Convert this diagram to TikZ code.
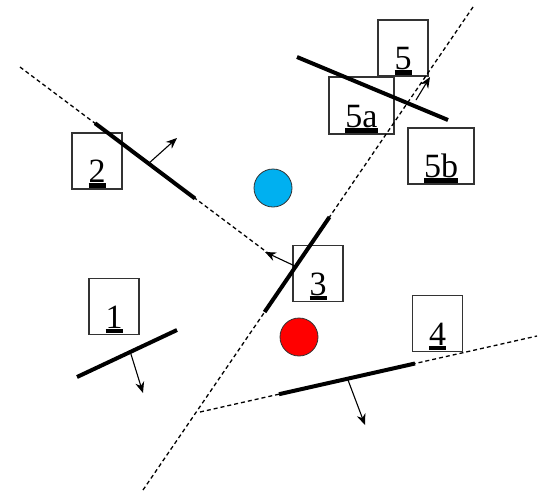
\documentclass[tikz,border=0pt]{standalone}
\usepackage{fontspec}
\setmainfont{Liberation Serif}
\usetikzlibrary{arrows.meta}
\newcommand{\ulab}[1]{\setbox0=\hbox{#1}\rlap{\rule[-5pt]{\wd0}{4.5pt}}\box0}
\definecolor{cblue}{HTML}{00B0F0}
\definecolor{cred}{HTML}{FF0000}
\tikzset{
  bx/.style={draw=black!80, line width=1.3pt, minimum width=50pt, minimum height=56pt, inner sep=0pt},
  lab/.style={anchor=base, font=\fontsize{34}{38}\selectfont, inner sep=0pt},
  seg/.style={line width=4pt},
  bound/.style={dash pattern=on 4pt off 3pt, line width=1.3pt},
  nrm/.style={-{Stealth[length=11pt,width=9pt]}, line width=1.1pt},
  dot/.style={circle, draw=black!80, line width=0.8pt, minimum size=38pt, inner sep=0pt}
}
\begin{document}
\begin{tikzpicture}[x=1pt,y=-1pt]
\useasboundingbox (0,0) rectangle (549,496);
% boxes
\node[bx] (b1) at (114,306.5) {};
\node[bx] (b2) at (97,161) {};
\node[bx] (b3) at (318,273.5) {};
\node[bx] (b4) at (437.5,323.5) {};
\node[bx] (b5) at (403,48) {};
\node[bx, minimum width=65pt, minimum height=57pt] (b5a) at (361.5,105.5) {};
\node[bx, minimum width=66pt] (b5b) at (441,156) {};
\node[lab] (t1) at ([yshift=7pt]b1.south) {\ulab{1}};
\node[lab] (t2) at ([yshift=7pt]b2.south) {\ulab{2}};
\node[lab] (t3) at ([yshift=7pt]b3.south) {\ulab{3}};
\node[lab] (t4) at ([yshift=7pt]b4.south) {\ulab{4}};
\node[lab] (t5) at ([yshift=7pt]b5.south) {\ulab{5}};
\node[lab] (t5a) at ([yshift=7pt]b5a.south) {\ulab{5a}};
\node[lab] (t5b) at ([yshift=7pt]b5b.south) {\ulab{5b}};
% circles
\node[dot, fill=cblue] (blue) at (273,188) {};
\node[dot, fill=cred] (red) at (299,337) {};
% dashed boundaries
\coordinate (d1a) at (20,67);
\coordinate (d1b) at (268,253);
\coordinate (d2a) at (143,490);
\coordinate (d2b) at (473,7);
\coordinate (d3a) at (200,412);
\coordinate (d3b) at (537,336);
\draw[bound] (d1a) -- (d1b);
\draw[bound] (d2a) -- (d2b);
\draw[bound] (d3a) -- (d3b);
% segments
\coordinate (s1a) at (77,377);     \coordinate (s1b) at (177,330);
\coordinate (s2a) at (95,123.2);   \coordinate (s2b) at (195,198.5);
\coordinate (s3a) at (264.6,312);  \coordinate (s3b) at (329.5,217);
\coordinate (s4a) at (279,394.2);  \coordinate (s4b) at (415,363.5);
\coordinate (s5a) at (297,57);     \coordinate (s5b) at (448,120);
\draw[seg] (s1a) -- (s1b);
\draw[seg] (s2a) -- (s2b);
\draw[seg] (s3a) -- (s3b);
\draw[seg] (s4a) -- (s4b);
\draw[seg] (s5a) -- (s5b);
% normals
\coordinate (n1a) at (130,351);  \coordinate (n1b) at (143,393);
\coordinate (n2a) at (148,164);  \coordinate (n2b) at (177,138);
\coordinate (n3a) at (297,267);  \coordinate (n3b) at (265,252);
\coordinate (n4a) at (348,380);  \coordinate (n4b) at (365,425);
\coordinate (n5a) at (416,100);  \coordinate (n5b) at (430,77);
\draw[nrm] (n1a) -- (n1b);
\draw[nrm] (n2a) -- (n2b);
\draw[nrm] (n3a) -- (n3b);
\draw[nrm] (n4a) -- (n4b);
\draw[nrm] (n5a) -- (n5b);
\end{tikzpicture}
\end{document}
